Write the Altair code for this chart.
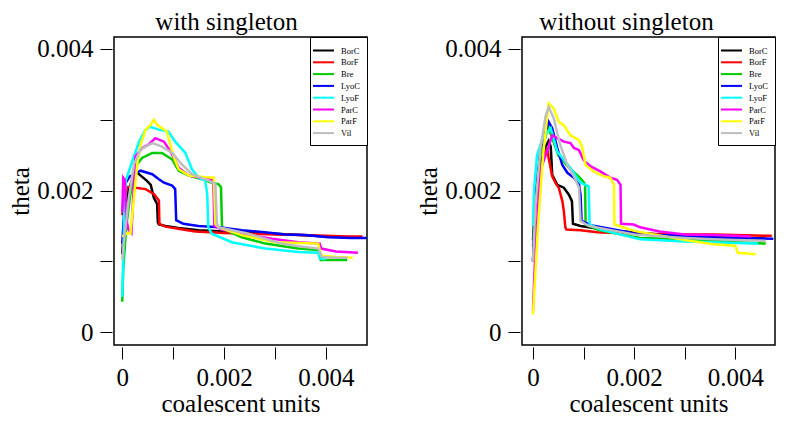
import altair as alt
import pandas as pd

FONT = "Liberation Serif"
SERIES = ["BorC", "BorF", "Bre", "LyoC", "LyoF", "ParC", "ParF", "Vil"]
COLORS = ["#000000", "#FF0000", "#00CD00", "#0000FF", "#00FFFF", "#FF00FF", "#FFFF00", "#BEBEBE"]
TITLES = ["with singleton", "without singleton"]
X_TICKS = [0, 0.001, 0.002, 0.003, 0.004]
Y_TICKS = [0, 0.001, 0.002, 0.003, 0.004]

# ---- values in units of 0.001 ----
# left panel: with singleton
L_BorC_x = [0, 0.04, 0.12, 0.22, 0.30, 0.38, 0.48, 0.56, 0.62, 0.685, 0.70, 0.72, 0.85, 1.1, 1.5, 2.0, 2.5, 3.0, 3.5, 4.0, 4.6]
L_BorC_y = [1.10, 1.55, 2.00, 2.20, 2.25, 2.20, 2.14, 2.08, 1.90, 1.81, 1.55, 1.52, 1.50, 1.47, 1.44, 1.42, 1.40, 1.39, 1.37, 1.35, 1.34]
L_BorF_x = [0, 0.05, 0.10, 0.26, 0.46, 0.62, 0.72, 0.73, 0.85, 1.1, 1.44, 2.0, 2.5, 3.0, 3.5, 4.0, 4.4, 4.72]
L_BorF_y = [1.65, 1.90, 2.05, 2.04, 2.02, 1.95, 1.86, 1.53, 1.49, 1.46, 1.42, 1.40, 1.39, 1.38, 1.37, 1.36, 1.35, 1.35]
L_Bre_x = [0, 0.02, 0.08, 0.16, 0.29, 0.39, 0.59, 0.78, 0.98, 1.11, 1.31, 1.57, 1.76, 1.89, 1.94, 1.96, 2.1, 2.35, 2.81, 3.2, 3.46, 3.85, 3.9, 4.42]
L_Bre_y = [0.43, 0.9, 1.5, 1.95, 2.37, 2.46, 2.53, 2.53, 2.44, 2.28, 2.21, 2.16, 2.11, 2.09, 2.05, 1.48, 1.42, 1.34, 1.25, 1.21, 1.18, 1.16, 1.02, 1.02]
L_LyoC_x = [0, 0.03, 0.06, 0.15, 0.36, 0.59, 0.72, 0.82, 0.98, 1.04, 1.06, 1.2, 1.5, 1.9, 2.35, 2.8, 3.2, 3.6, 4.05, 4.5, 4.8]
L_LyoC_y = [1.25, 1.6, 2.1, 2.2, 2.28, 2.23, 2.16, 2.11, 2.07, 2.02, 1.58, 1.53, 1.50, 1.48, 1.44, 1.41, 1.38, 1.37, 1.34, 1.33, 1.33]
L_LyoF_x = [0, 0.02, 0.04, 0.07, 0.2, 0.33, 0.45, 0.55, 0.72, 0.91, 1.04, 1.24, 1.37, 1.5, 1.63, 1.67, 1.69, 1.76, 2.15, 2.81, 3.46, 3.85, 3.88, 4.0]
L_LyoF_y = [0.50, 1.0, 1.7, 2.14, 2.42, 2.69, 2.85, 2.90, 2.86, 2.83, 2.69, 2.53, 2.30, 2.18, 2.14, 1.95, 1.48, 1.39, 1.27, 1.18, 1.13, 1.12, 1.04, 1.03]
L_ParC_x = [0, 0.02, 0.05, 0.08, 0.12, 0.18, 0.23, 0.26, 0.39, 0.52, 0.65, 0.82, 0.95, 1.11, 1.31, 1.57, 1.79, 1.81, 1.95, 2.35, 2.94, 3.46, 3.88, 3.91, 4.2, 4.63]
L_ParC_y = [1.7, 2.18, 2.15, 1.6, 1.45, 1.40, 2.1, 2.48, 2.60, 2.65, 2.74, 2.69, 2.55, 2.32, 2.21, 2.18, 2.14, 1.50, 1.45, 1.39, 1.32, 1.27, 1.25, 1.18, 1.14, 1.12]
L_ParF_x = [0, 0.1, 0.16, 0.23, 0.30, 0.36, 0.46, 0.55, 0.62, 0.70, 0.78, 0.88, 0.96, 1.04, 1.11, 1.31, 1.6, 1.80, 1.83, 1.89, 2.35, 3.0, 3.5, 3.85, 3.91, 4.2, 4.53]
L_ParF_y = [1.35, 1.40, 1.39, 1.90, 2.4, 2.65, 2.86, 2.92, 3.0, 2.92, 2.88, 2.83, 2.6, 2.42, 2.30, 2.21, 2.19, 2.18, 1.53, 1.48, 1.37, 1.27, 1.26, 1.25, 1.08, 1.06, 1.05]
L_Vil_x = [0, 0.05, 0.13, 0.23, 0.36, 0.59, 0.78, 0.98, 1.17, 1.37, 1.70, 1.83, 1.86, 1.89, 2.48, 3.13, 3.5, 3.85, 3.93, 4.2, 4.43]
L_Vil_y = [1.02, 1.4, 1.9, 2.37, 2.58, 2.67, 2.62, 2.53, 2.37, 2.23, 2.14, 2.09, 1.53, 1.48, 1.39, 1.25, 1.21, 1.18, 1.06, 1.05, 1.05]

# right panel: without singleton
R_BorC_x = [0, 0.05, 0.15, 0.25, 0.31, 0.35, 0.36, 0.38, 0.48, 0.61, 0.71, 0.77, 0.79, 0.94, 1.5, 2.5, 3.5, 4.0, 4.6]
R_BorC_y = [1.3, 1.9, 2.4, 2.62, 2.70, 2.62, 2.50, 2.22, 2.08, 2.04, 1.94, 1.85, 1.53, 1.50, 1.44, 1.38, 1.34, 1.33, 1.32]
R_BorF_x = [0, 0.05, 0.15, 0.28, 0.31, 0.38, 0.45, 0.51, 0.58, 0.61, 0.64, 0.66, 0.94, 1.27, 2.0, 3.0, 3.56, 4.0, 4.72]
R_BorF_y = [1.0, 1.8, 2.3, 2.60, 2.46, 2.20, 2.10, 2.04, 1.85, 1.71, 1.48, 1.45, 1.44, 1.41, 1.39, 1.38, 1.38, 1.37, 1.36]
R_Bre_x = [0, 0.05, 0.15, 0.30, 0.5, 0.7, 0.9, 1.0, 1.03, 1.04, 1.3, 2.12, 3.0, 3.56, 4.0, 4.6]
R_Bre_y = [1.2, 2.0, 2.5, 2.9, 2.5, 2.33, 2.2, 2.12, 2.08, 1.52, 1.44, 1.33, 1.31, 1.29, 1.27, 1.25]
R_LyoC_x = [0, 0.05, 0.15, 0.31, 0.38, 0.48, 0.58, 0.68, 0.81, 0.91, 0.94, 0.96, 1.14, 1.6, 2.12, 3.0, 3.56, 4.0, 4.75]
R_LyoC_y = [1.0, 1.9, 2.6, 2.97, 2.88, 2.60, 2.36, 2.25, 2.18, 2.08, 1.94, 1.57, 1.51, 1.45, 1.38, 1.36, 1.34, 1.33, 1.32]
R_LyoF_x = [0, 0.02, 0.08, 0.2, 0.35, 0.48, 0.61, 0.74, 0.87, 0.94, 1.04, 1.10, 1.12, 1.33, 2.12, 3.0, 3.56, 4.0, 4.45]
R_LyoF_y = [1.5, 2.0, 2.5, 2.75, 2.88, 2.55, 2.43, 2.32, 2.18, 2.11, 2.08, 2.06, 1.52, 1.45, 1.31, 1.28, 1.27, 1.26, 1.25]
R_ParC_x = [0, 0.05, 0.15, 0.3, 0.38, 0.48, 0.61, 0.74, 0.81, 0.91, 1.0, 1.14, 1.33, 1.53, 1.66, 1.73, 1.74, 1.99, 2.12, 2.5, 3.0, 3.56, 4.0, 4.3]
R_ParC_y = [0.3, 1.2, 2.3, 2.6, 2.78, 2.74, 2.69, 2.67, 2.60, 2.57, 2.43, 2.34, 2.27, 2.18, 2.15, 2.08, 1.53, 1.52, 1.48, 1.42, 1.38, 1.37, 1.36, 1.35]
R_ParF_x = [0, 0.1, 0.2, 0.31, 0.41, 0.51, 0.61, 0.74, 0.91, 0.97, 1.04, 1.2, 1.4, 1.53, 1.6, 1.61, 2.0, 3.0, 3.56, 4.0, 4.05, 4.4]
R_ParF_y = [0.25, 1.5, 2.5, 3.23, 3.16, 2.97, 2.92, 2.78, 2.71, 2.62, 2.36, 2.27, 2.20, 2.18, 2.08, 1.52, 1.43, 1.30, 1.24, 1.22, 1.12, 1.10]
R_Vil_x = [0, 0.05, 0.15, 0.25, 0.31, 0.41, 0.54, 0.68, 0.81, 0.91, 0.94, 1.1, 2.0, 3.0, 3.56, 4.0, 4.6]
R_Vil_y = [1.0, 1.8, 2.6, 3.05, 3.18, 3.02, 2.64, 2.36, 2.20, 2.04, 1.57, 1.50, 1.38, 1.33, 1.31, 1.30, 1.29]

LEFT = [(L_BorC_x, L_BorC_y), (L_BorF_x, L_BorF_y), (L_Bre_x, L_Bre_y), (L_LyoC_x, L_LyoC_y),
        (L_LyoF_x, L_LyoF_y), (L_ParC_x, L_ParC_y), (L_ParF_x, L_ParF_y), (L_Vil_x, L_Vil_y)]
RIGHT = [(R_BorC_x, R_BorC_y), (R_BorF_x, R_BorF_y), (R_Bre_x, R_Bre_y), (R_LyoC_x, R_LyoC_y),
         (R_LyoF_x, R_LyoF_y), (R_ParC_x, R_ParC_y), (R_ParF_x, R_ParF_y), (R_Vil_x, R_Vil_y)]


def frame(pairs):
    rows = []
    for name, (xs, ys) in zip(SERIES, pairs):
        for i, (x, y) in enumerate(zip(xs, ys)):
            rows.append({"series": name, "x": x * 1e-3, "y": y * 1e-3, "i": i})
    return pd.DataFrame(rows)


LABEL_EXPR = ("abs(datum.value) < 1e-9 ? '0' : "
              "(abs(datum.value - 0.002) < 1e-9 || abs(datum.value - 0.004) < 1e-9) ? format(datum.value, '.3f') : ''")

AXIS_COMMON = dict(grid=False, domain=False, ticks=True, tickSize=12, tickColor="black", tickWidth=1,
                   offset=2, labelFont=FONT, labelFontSize=25, labelColor="black", labelFlush=False,
                   labelOverlap=False, labelExpr=LABEL_EXPR, titleFont=FONT, titleFontSize=25,
                   titleFontWeight="normal", titleColor="black")

YDOM = [-0.000182, 0.004168]


def panel(df, title, dx, xdom):
    return alt.Chart(df, title=alt.Title(title, font=FONT, fontSize=25, fontWeight="normal", color="black",
                                         anchor="middle", dx=dx, offset=2)).mark_line(
        strokeWidth=2.5, clip=True
    ).encode(
        x=alt.X("x:Q", title="coalescent units",
                scale=alt.Scale(domain=xdom, nice=False, zero=False),
                axis=alt.Axis(values=X_TICKS, labelPadding=6, titlePadding=1, **AXIS_COMMON)),
        y=alt.Y("y:Q", title="theta",
                scale=alt.Scale(domain=YDOM, nice=False, zero=False),
                axis=alt.Axis(values=Y_TICKS, labelPadding=7, titlePadding=3, labelAngle=0, **AXIS_COMMON)),
        color=alt.Color("series:N", scale=alt.Scale(domain=SERIES, range=COLORS),
                        legend=alt.Legend(title=None, orient="top-right", offset=0, padding=7,
                                          fillColor="white", strokeColor="black", symbolType="M-2,0H2",
                                          symbolStrokeWidth=2, symbolSize=110, labelFont=FONT,
                                          labelFontSize=8.5, labelColor="black", rowPadding=0.8,
                                          labelOffset=11)),
        order=alt.Order("i:Q"),
    ).properties(width=253, height=308)


left = panel(frame(LEFT), TITLES[0], -14, [-0.000162, 0.004809])
right = panel(frame(RIGHT), TITLES[1], -22, [-0.000217, 0.004783])

chart = alt.hconcat(left, right, spacing=155, bounds="flush").resolve_legend(
    color="independent"
).properties(
    padding={"left": 0, "top": 0, "right": 0, "bottom": 0}
).configure_view(stroke="black", strokeWidth=1.5)

chart.save("out.html", embed_options={"renderer": "svg", "actions": False})
